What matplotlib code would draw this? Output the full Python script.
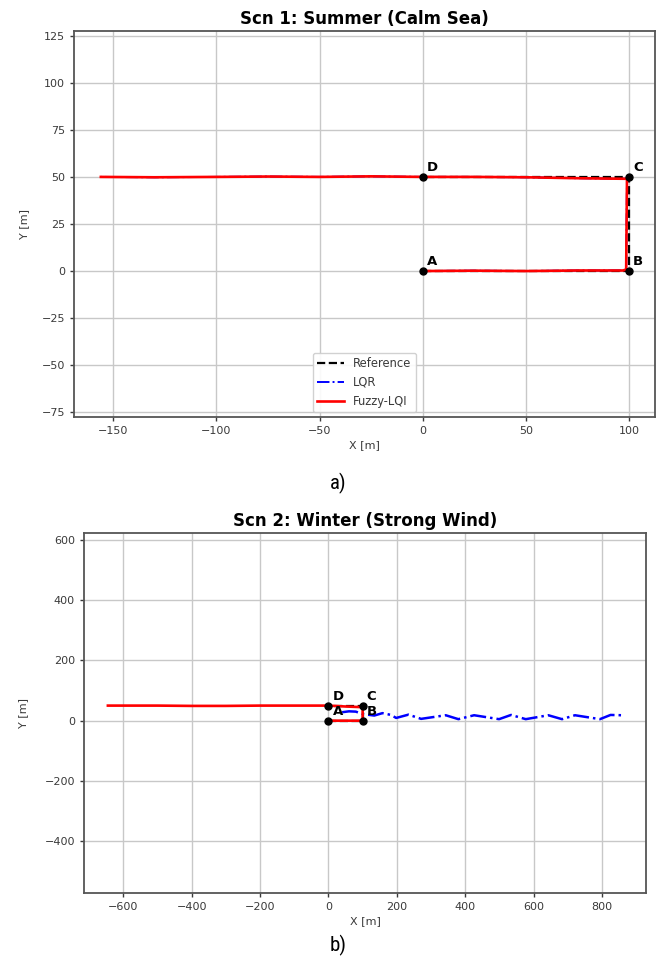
import matplotlib
matplotlib.use("Agg")
import matplotlib.pyplot as plt
import matplotlib.font_manager as fm

# ---------------- data ----------------
# Waypoints
wp_names = ["A", "B", "C", "D"]
wp_x = [0, 100, 100, 0]
wp_y = [0, 0, 50, 50]

# Scenario 1 (summer, calm sea)
s1_ref_x = [0, 100, 100, 0]
s1_ref_y = [0, 0, 50, 50]
s1_fz_x = [0, 25, 50, 75, 97, 98.6, 98.8, 99.0, 90, 75, 50, 25, 0, -25, -50, -75, -100, -130, -156]
s1_fz_y = [0, 0.2, 0.0, 0.3, 0.3, 0.8, 25, 49.0, 49.1, 49.3, 49.8, 50.0, 50.0, 50.3, 50.0, 50.2, 50.0, 49.8, 50.0]
# LQR track coincides with (and is hidden under) the Fuzzy-LQI track in scenario 1
s1_lqr_x = [0, 25, 50, 75, 97, 98.6, 98.8, 99.0, 90, 75, 50, 25, 0, -25, -50, -75, -100, -130, -156]
s1_lqr_y = [0, 0.2, 0.0, 0.3, 0.3, 0.8, 25, 49.0, 49.1, 49.3, 49.8, 50.0, 50.0, 50.3, 50.0, 50.2, 50.0, 49.8, 50.0]

# Scenario 2 (winter, strong wind)
s2_ref_x = [0, 100, 100, 0]
s2_ref_y = [0, 0, 50, 50]
s2_lqr_x = [40, 60, 80, 100, 134, 158, 183, 198, 234, 271, 343, 380, 426, 499,
            534, 577, 643, 683, 721, 794, 825, 858]
s2_lqr_y = [28, 31, 30, 22, 17, 25, 19, 9, 20, 6, 18, 5, 18, 5,
            19, 5, 18, 5, 18, 5, 19, 18]
s2_fz_x = [0, 50, 95, 100, 100, 95, 50, 0, -100, -200, -300, -400, -500, -645]
s2_fz_y = [0, 0, 0, 5, 40, 45, 47, 50, 50, 50, 49, 49, 50, 50]

titles = ["Scn 1: Summer (Calm Sea)", "Scn 2: Winter (Strong Wind)"]
sub_labels = ["a)", "b)"]
x_ticks = [[-150, -100, -50, 0, 50, 100], [-600, -400, -200, 0, 200, 400, 600, 800]]
y_ticks = [[-75, -50, -25, 0, 25, 50, 75, 100, 125], [-400, -200, 0, 200, 400, 600]]
x_lims = [(-169, 112.6), (-715, 930)]
y_lims = [(-77.5, 127.5), (-572, 622)]

# ---------------- plot ----------------
fig = plt.figure(figsize=(6.61, 9.65), dpi=100)
ax1 = fig.add_axes([0.112, 0.5679, 0.879, 0.400])
ax2 = fig.add_axes([0.127, 0.0746, 0.851, 0.3728])

avail = {f.name for f in fm.fontManager.ttflist}
sub_family = ["DejaVu Sans"]
for cand in ["Liberation Sans Narrow", "Roboto Condensed", "Open Sans Condensed"]:
    if cand in avail:
        sub_family = [cand, "DejaVu Sans"]
        break

data = [
    (s1_ref_x, s1_ref_y, s1_lqr_x, s1_lqr_y, s1_fz_x, s1_fz_y),
    (s2_ref_x, s2_ref_y, s2_lqr_x, s2_lqr_y, s2_fz_x, s2_fz_y),
]

text_col = "#3a3a3a"
ylabel_pad = [9, 12]
for i, ax in enumerate([ax1, ax2]):
    rx, ry, lx, ly, fx, fy = data[i]
    ax.plot(rx, ry, ls="--", color="black", lw=1.6, label="Reference", zorder=3)
    ax.plot(lx, ly, ls="-.", color="blue", lw=1.8 if i else 1.4, label="LQR", zorder=2)
    ax.plot(fx, fy, ls="-", color="red", lw=1.9, label="Fuzzy-LQI", zorder=4)
    ax.plot(wp_x, wp_y, "o", color="black", ms=5, zorder=5)
    for n, px, py in zip(wp_names, wp_x, wp_y):
        ax.annotate(n, (px, py), xytext=(3, 2), textcoords="offset points",
                    fontsize=9.5, fontweight="bold", ha="left", va="bottom", zorder=6)
    ax.set_xlim(*x_lims[i])
    ax.set_ylim(*y_lims[i])
    ax.set_xticks(x_ticks[i])
    ax.set_yticks(y_ticks[i])
    ax.grid(True, color="#c8c8c8", lw=1.0)
    ax.set_axisbelow(True)
    ax.tick_params(labelsize=8, colors=text_col, length=3, width=1.0)
    for sp in ax.spines.values():
        sp.set_color("#555555")
        sp.set_linewidth(1.3)
    ax.set_xlabel("X [m]", fontsize=8, color=text_col, labelpad=3)
    ax.set_ylabel("Y [m]", fontsize=8, color=text_col, labelpad=ylabel_pad[i])
    ax.set_title(titles[i], fontsize=12, fontweight="bold", pad=5)

ax1.legend(loc="lower center", fontsize=8.3, framealpha=0.9, edgecolor="#cccccc",
           labelcolor=text_col, handlelength=2.3, borderaxespad=0.4)

fig.text(0.511, 1 - 483 / 965, sub_labels[0], fontsize=15, ha="center", va="center", family=sub_family)
fig.text(0.511, 1 - 945 / 965, sub_labels[1], fontsize=15, ha="center", va="center", family=sub_family)

fig.savefig("out.png", dpi=100)
